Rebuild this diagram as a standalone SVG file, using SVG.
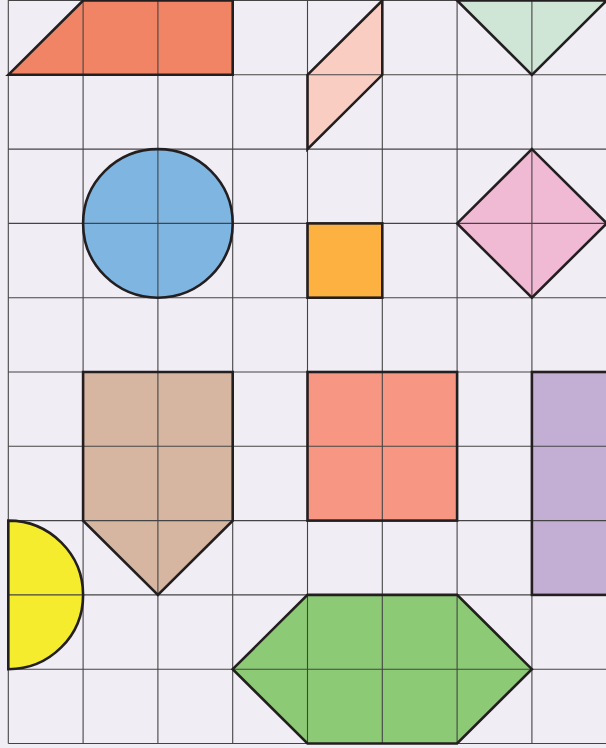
<svg xmlns="http://www.w3.org/2000/svg" width="606" height="748" viewBox="0 0 606 748">
<style>
.grid line{stroke:#444;stroke-width:1.1}
.ol{fill:none;stroke:#231f20;stroke-width:2.6;stroke-linejoin:miter}
</style>
<defs>
<polygon id="s1" points="8.3,74.8 83.1,0.5 232.7,0.5 232.7,74.8"/>
<polygon id="s2" points="307.5,74.8 382.3,0.5 382.3,74.8 307.5,149.1"/>
<polygon id="s3" points="457.1,0.5 606.7,0.5 531.9,74.8"/>
<ellipse id="s4" cx="157.9" cy="223.4" rx="74.8" ry="74.3"/>
<rect id="s5" x="307.5" y="223.4" width="74.8" height="74.3"/>
<polygon id="s6" points="531.9,149.1 606.7,223.4 531.9,297.7 457.1,223.4"/>
<polygon id="s7" points="83.1,372 232.7,372 232.7,520.6 157.9,594.9 83.1,520.6"/>
<rect id="s8" x="307.5" y="372" width="149.6" height="148.6"/>
<rect id="s9" x="531.9" y="372" width="80" height="222.9"/>
<path id="s10" d="M8.3,520.6 A74.8,74.3 0 0 1 8.3,669.2 Z"/>
<polygon id="s11" points="232.7,669.2 307.5,594.9 457.1,594.9 531.9,669.2 457.1,743.5 307.5,743.5"/>
</defs>
<rect width="606" height="748" fill="#f1edf4"/>
<g id="trapezoid"><use href="#s1" fill="#f28466"/></g>
<g id="parallelogram"><use href="#s2" fill="#f9cdc1"/></g>
<g id="triangle"><use href="#s3" fill="#cfe6d6"/></g>
<g id="circle"><use href="#s4" fill="#7fb5e1"/></g>
<g id="small-square"><use href="#s5" fill="#fdb140"/></g>
<g id="diamond"><use href="#s6" fill="#f0bad4"/></g>
<g id="pentagon"><use href="#s7" fill="#d6b6a0"/></g>
<g id="square"><use href="#s8" fill="#f79783"/></g>
<g id="rectangle"><use href="#s9" fill="#c3afd4"/></g>
<g id="semicircle"><use href="#s10" fill="#f5ec2e"/></g>
<g id="hexagon"><use href="#s11" fill="#8cca76"/></g>
<g class="grid">
<line x1="8.3" y1="0" x2="8.3" y2="743.5"/>
<line x1="83.1" y1="0" x2="83.1" y2="743.5"/>
<line x1="157.9" y1="0" x2="157.9" y2="743.5"/>
<line x1="232.7" y1="0" x2="232.7" y2="743.5"/>
<line x1="307.5" y1="0" x2="307.5" y2="743.5"/>
<line x1="382.3" y1="0" x2="382.3" y2="743.5"/>
<line x1="457.1" y1="0" x2="457.1" y2="743.5"/>
<line x1="531.9" y1="0" x2="531.9" y2="743.5"/>
<line x1="8.3" y1="0.5" x2="606" y2="0.5"/>
<line x1="8.3" y1="74.8" x2="606" y2="74.8"/>
<line x1="8.3" y1="149.1" x2="606" y2="149.1"/>
<line x1="8.3" y1="223.4" x2="606" y2="223.4"/>
<line x1="8.3" y1="297.7" x2="606" y2="297.7"/>
<line x1="8.3" y1="372" x2="606" y2="372"/>
<line x1="8.3" y1="446.3" x2="606" y2="446.3"/>
<line x1="8.3" y1="520.6" x2="606" y2="520.6"/>
<line x1="8.3" y1="594.9" x2="606" y2="594.9"/>
<line x1="8.3" y1="669.2" x2="606" y2="669.2"/>
<line x1="8.3" y1="743.5" x2="606" y2="743.5"/>
</g>
<g id="outlines" class="ol">
<use href="#s1"/><use href="#s2"/><use href="#s3"/><use href="#s4"/><use href="#s5"/><use href="#s6"/><use href="#s7"/><use href="#s8"/><use href="#s9"/><use href="#s10"/><use href="#s11"/>
</g>
</svg>
